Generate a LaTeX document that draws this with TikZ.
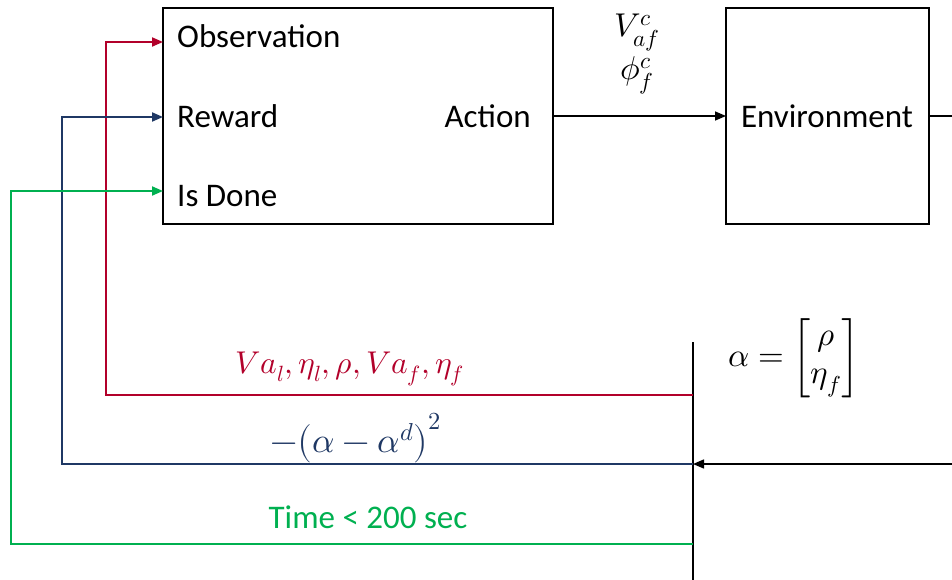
\documentclass[tikz,border=0pt]{standalone}
\usepackage{amsmath}
\usepackage{fontspec}
\usepackage{unicode-math}
\setmainfont{Carlito}
\setmathfont{Latin Modern Math}
\usetikzlibrary{arrows.meta}
\definecolor{cred}{RGB}{178,0,42}
\definecolor{cblue}{RGB}{31,56,100}
\definecolor{cgreen}{RGB}{0,176,80}
\begin{document}
\begin{tikzpicture}[x=1pt,y=-1pt,
  lbl/.style={inner sep=0pt,font=\fontsize{33}{38}\selectfont},
  mlbl/.style={inner sep=0pt,font=\fontsize{33}{38}\selectfont},
  tip/.style={-{Triangle[length=11pt,width=9pt]}},
  wire/.style={line width=2pt}]
\useasboundingbox (0,0) rectangle (952,580);
% boxes
\draw[line width=2.2pt] (163,8) rectangle (553,224);
\coordinate (agentR) at (553,116);
\coordinate (agentObs) at (163,42);
\coordinate (agentRew) at (163,117);
\coordinate (agentDone) at (163,191);
\draw[line width=2.2pt] (726,8) rectangle (929,224);
\coordinate (envL) at (726,116);
\coordinate (envR) at (929,116);
\coordinate (edgeR) at (952,116);
\node[lbl,anchor=west] (obs) at (177,36) {Observation};
\node[lbl,anchor=west] (rew) at (177,116) {Reward};
\node[lbl,anchor=west] (done) at (177,196) {Is Done};
\node[lbl,anchor=east] (act) at (531,116) {Action};
\node[lbl] (env) at (827,116) {Environment};
\node[mlbl,anchor=base] (vaf) at (637,37) {$V^{c}_{af}$};
\node[mlbl,anchor=base] (phi) at (637,80) {$\phi^{c}_{f}$};
% action arrow
\draw[line width=1.5pt,tip] (agentR) -- (envL);
\draw[line width=1.5pt] (envR) -- (edgeR);
% vertical bar
\coordinate (barT) at (693,342);
\coordinate (barB) at (693,580);
\draw[line width=2.5pt] (barT) -- (barB);
\coordinate (redR) at (693,395);
\coordinate (blueR) at (693,464);
\coordinate (greenR) at (693,544);
\coordinate (inR) at (952,464);
\draw[line width=1.5pt,tip] (inR) -- (blueR);
% feedback wires
\draw[wire,cred,tip] (redR) -- (106,395) -- (106,42) -- (agentObs);
\draw[wire,cblue,tip] (blueR) -- (62,464) -- (62,117) -- (agentRew);
\draw[wire,cgreen,tip] (greenR) -- (11,544) -- (11,191) -- (agentDone);
% labels
\node[mlbl,font=\fontsize{31.5}{36}\selectfont,text=cred] (redlbl) at (350,369) {$Va_{l},\eta_{l},\rho,Va_{f},\eta_{f}$};
\node[mlbl,font=\fontsize{35}{40}\selectfont,text=cblue] (bluelbl) at (356,439) {$-\bigl(\alpha-\alpha^{d}\bigr)^{2}$};
\node[lbl,text=cgreen] (greenlbl) at (368,517) {Time < 200 sec};
\node[mlbl,anchor=west] (alpha) at (728,358) {$\alpha=\begin{bmatrix}\rho\\ \eta_{f}\end{bmatrix}$};
\end{tikzpicture}
\end{document}
